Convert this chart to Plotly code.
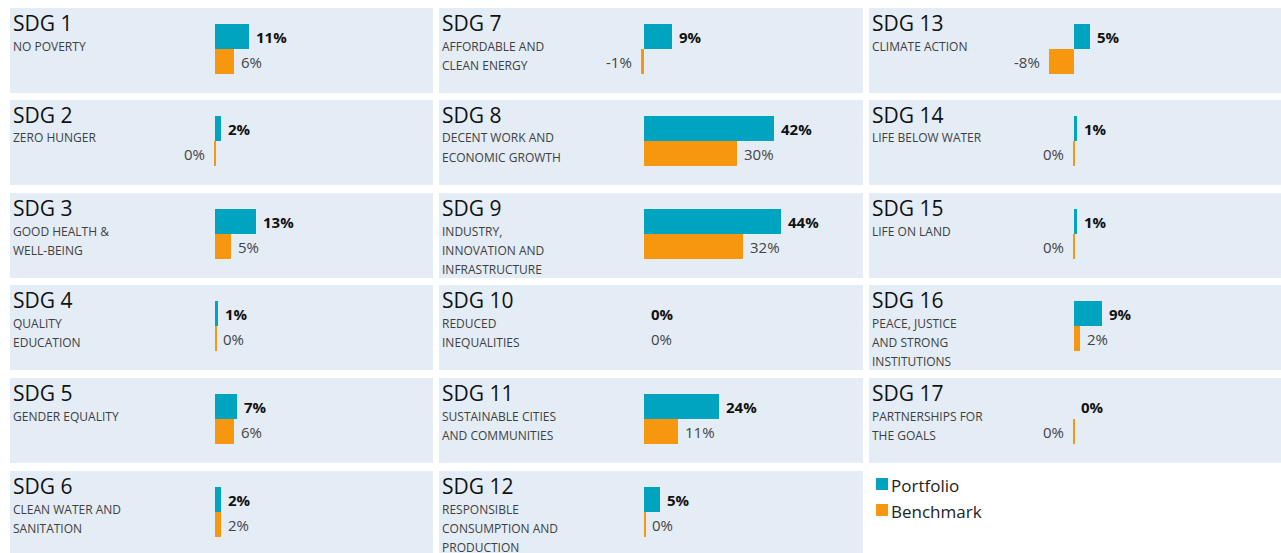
import plotly.graph_objects as go

# ---------------- data ----------------
sdg_numbers = list(range(1, 18))
sdg_names = [
    ["NO POVERTY"],
    ["ZERO HUNGER"],
    ["GOOD HEALTH &", "WELL-BEING"],
    ["QUALITY", "EDUCATION"],
    ["GENDER EQUALITY"],
    ["CLEAN WATER AND", "SANITATION"],
    ["AFFORDABLE AND", "CLEAN ENERGY"],
    ["DECENT WORK AND", "ECONOMIC GROWTH"],
    ["INDUSTRY,", "INNOVATION AND", "INFRASTRUCTURE"],
    ["REDUCED", "INEQUALITIES"],
    ["SUSTAINABLE CITIES", "AND COMMUNITIES"],
    ["RESPONSIBLE", "CONSUMPTION AND", "PRODUCTION"],
    ["CLIMATE ACTION"],
    ["LIFE BELOW WATER"],
    ["LIFE ON LAND"],
    ["PEACE, JUSTICE", "AND STRONG", "INSTITUTIONS"],
    ["PARTNERSHIPS FOR", "THE GOALS"],
]
portfolio = [11, 2, 13, 1, 7, 2, 9, 42, 44, 0, 24, 5, 5, 1, 1, 9, 0]
benchmark = [6, -0.3, 5, 0.3, 6, 2, -1, 30, 32, 0, 11, 0.3, -8, -0.3, -0.3, 2, -0.3]
series_names = ["Portfolio", "Benchmark"]

# ---------------- style ----------------
W, H = 1281, 553
FONT = "Open Sans"
TEAL = "#00A4C0"
ORANGE = "#F7960F"
PANEL_BG = "#E4ECF6"
col_left = [10, 439, 869]
col_right = [433, 863, 1281]
row_top = [8, 100, 193, 285, 378, 471]
PANEL_H = 85
ZERO_OFF = 205.2     # px from panel left to zero line
PX_PER_PCT = 3.1
BAR_PX = 25
BAR_TOP_OFF = 16     # px from panel top to top of portfolio bar


def px(xp):
    return xp / W


def py(yp):
    return 1 - yp / H


fig = go.Figure()
annotations = []
layout_axes = {}

for i, n in enumerate(sdg_numbers):
    col, row = divmod(i, 6)
    left, right = col_left[col], col_right[col]
    top = row_top[row]
    bottom = min(top + PANEL_H, H)
    k = "" if i == 0 else str(i + 1)
    xa, ya = "x" + k, "y" + k

    wpx = right - left
    x0 = -ZERO_OFF / PX_PER_PCT
    x1 = x0 + wpx / PX_PER_PCT
    ytop = 1.5 + BAR_TOP_OFF / BAR_PX
    ybot = ytop - (bottom - top) / BAR_PX

    layout_axes["xaxis" + k] = dict(domain=[px(left), px(right)], range=[x0, x1],
                                    visible=False, fixedrange=True, anchor=ya)
    layout_axes["yaxis" + k] = dict(domain=[py(bottom), py(top)], range=[ybot, ytop],
                                    visible=False, fixedrange=True, anchor=xa)

    for s, (vals, color, yv) in enumerate([(portfolio, TEAL, 1), (benchmark, ORANGE, 0)]):
        v = vals[i]
        fig.add_trace(go.Bar(x=[v], y=[yv], orientation="h", width=1,
                             marker=dict(color=color, line=dict(width=0)),
                             name=series_names[s], showlegend=False,
                             xaxis=xa, yaxis=ya, hoverinfo="skip"))
        annotations.append(dict(
            x=v, y=yv, xref=xa, yref=ya, text=f"{round(v):d}%",
            xanchor="left" if v >= 0 else "right", yanchor="middle",
            xshift=5 if v >= 0 else -7, showarrow=False,
            font=dict(family=FONT, size=15,
                      color="#111111" if s == 0 else "#444444",
                      weight="bold" if s == 0 else "normal")))

    # title and subtitle
    annotations.append(dict(x=px(left + 1), y=py(top + 15), xref="paper", yref="paper",
                            text=f"SDG {n}", xanchor="left", yanchor="middle",
                            showarrow=False,
                            font=dict(family=FONT, size=21, color="#111111")))
    for j, line in enumerate(sdg_names[i]):
        annotations.append(dict(x=px(left + 1), y=py(top + 38 + 19 * j), xref="paper",
                                yref="paper", text=line, xanchor="left",
                                yanchor="middle", showarrow=False,
                                font=dict(family=FONT, size=12, color="#3F3F3F")))

# legend (manual)
shapes = []
legend_items = [("Portfolio", TEAL, 484), ("Benchmark", ORANGE, 510)]
for name, color, yc in legend_items:
    shapes.append(dict(type="rect", xref="paper", yref="paper",
                       x0=px(876), x1=px(888), y0=py(yc + 6), y1=py(yc - 6),
                       fillcolor=color, line=dict(width=0)))
    annotations.append(dict(x=px(889), y=py(yc + 1), xref="paper", yref="paper",
                            text=name, xanchor="left", yanchor="middle",
                            showarrow=False,
                            font=dict(family=FONT, size=17, color="#222222")))

fig.update_layout(
    width=W, height=H, margin=dict(l=0, r=0, t=0, b=0),
    paper_bgcolor="white", plot_bgcolor=PANEL_BG,
    showlegend=False, barmode="overlay", bargap=0,
    annotations=annotations, shapes=shapes,
    font=dict(family=FONT),
    **layout_axes,
)

fig.write_html("out.html", config={"displayModeBar": False},
               post_script="document.body.style.margin='0';")
